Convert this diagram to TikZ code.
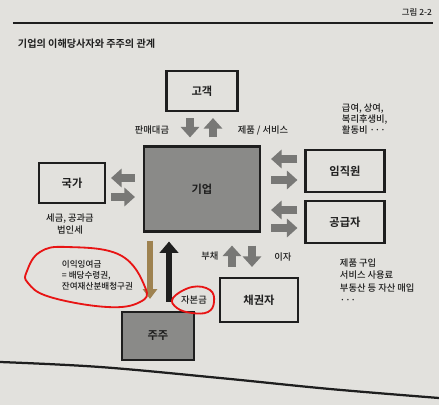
\documentclass[tikz,border=0pt]{standalone}
\usepackage{fontspec}
\setmainfont{Noto Sans CJK KR Medium}[BoldFont={Noto Sans CJK KR Bold}]
\usepackage{tikz}
\usetikzlibrary{arrows.meta,calc}

\definecolor{papier}{RGB}{226,225,221}
\definecolor{tinte}{RGB}{30,30,30}
\definecolor{pfeilgrau}{RGB}{120,120,118}
\definecolor{kastengrau}{RGB}{138,138,136}
\definecolor{gold}{RGB}{158,130,80}
\definecolor{rot}{RGB}{232,20,20}

\begin{document}
\begin{tikzpicture}[%
		x=0.25mm, y=-0.25mm,
		text=tinte,
		font=\fontsize{6.6}{8.5}\selectfont,
		kasten/.style={draw=tinte, line width=1.5pt, inner sep=0pt,
			font=\fontsize{8}{10}\selectfont\bfseries},
		block/.style={draw=pfeilgrau, line width=5pt,
			-{Triangle[width=13pt,length=7.5pt]}},
		>=Latex
		]

		%% Hintergrund (Papier) und Rahmen des Bildes
		\fill [papier] (0,0) rectangle (439,405);
		\useasboundingbox (0,0) rectangle (439,405);

		%% Kopfzeile
		\node (bildnr) at (417,12) {\fontsize{6}{7}\selectfont 그림 2-2};
		\draw [tinte, line width=2pt] (13,23) -- (433,23);
		\node [anchor=west, font=\fontsize{7.2}{8}\selectfont\bfseries] (titel) at (13,44)
			{기업의 이해당사자와 주주의 관계};

		%% Kaesten
		\node [kasten, minimum width=17.75mm, minimum height=10mm] (gogaek) at (202,91) {고객};
		\node [kasten, fill=kastengrau, minimum width=29mm, minimum height=21.25mm] (giup) at (202,189) {기업};
		\node [kasten, minimum width=16.5mm, minimum height=10mm] (gukga) at (72,183) {국가};
		\node [kasten, minimum width=19.75mm, minimum height=10.5mm] (imjik) at (345,171) {임직원};
		\node [kasten, minimum width=19.75mm, minimum height=10.5mm] (gonggeup) at (345,222) {공급자};
		\node [kasten, minimum width=19.5mm, minimum height=11mm] (chaegwon) at (259,300) {채권자};
		\node [kasten, fill=kastengrau, minimum width=18mm, minimum height=12mm] (juju) at (158,336) {주주};

		%% Pfeile Kunde <-> Unternehmen
		\draw [block] ($(gogaek.south)+(-12,6)$) -- ($(giup.north)+(-12,-8)$);
		\draw [block] ($(giup.north)+(11,-8)$) -- ($(gogaek.south)+(11,6)$);
		\node (panmae) at (152,130) {판매대금};
		\node (jepum) at (263,130) {제품 / 서비스};

		%% Pfeile Staat <-> Unternehmen
		\draw [block] ($(giup.west)+(-8,-11)$) -- ($(gukga.east)+(5,-5)$);
		\draw [block] ($(gukga.east)+(5,14)$) -- ($(giup.west)+(-8,8)$);
		\node [align=center] (segeum) at (70,224) {세금, 공과금\\법인세};

		%% Pfeile Mitarbeiter / Lieferanten <-> Unternehmen
		\draw [block] ($(imjik.west)+(-7,-12)$) -- ($(giup.east)+(10,-30)$);
		\draw [block] ($(giup.east)+(10,-9)$) -- ($(imjik.west)+(-7,9)$);
		\draw [block] ($(gonggeup.west)+(-7,-12)$) -- ($(giup.east)+(10,21)$);
		\draw [block] ($(giup.east)+(10,39)$) -- ($(gonggeup.west)+(-7,6)$);
		\node [anchor=west, align=left, font=\fontsize{6.6}{7.8}\selectfont] (geubyeo) at (337,119)
			{급여, 상여,\\복리후생비,\\활동비 ···};
		\node [anchor=west, align=left, font=\fontsize{6.6}{8.9}\selectfont] (jepumgu) at (335,281)
			{제품 구입\\서비스 사용료\\부동산 등 자산 매입\\···};

		%% Pfeile Glaeubiger <-> Unternehmen
		\draw [block] ($(chaegwon.north)+(-27,-10)$) -- ($(giup.south)+(30,13)$);
		\draw [block] ($(giup.south)+(50,13)$) -- ($(chaegwon.north)+(-7,-10)$);
		\node (buchae) at (210,256) {부채};
		\node (ija) at (283,257) {이자};

		%% Pfeile Aktionaer <-> Unternehmen
		\draw [gold, line width=4.2pt, -{Triangle[width=10pt,length=7pt]}]
			($(giup.south)+(-52,8)$) -- ($(juju.north)+(-8,-12)$);
		\draw [tinte, line width=4.2pt, -{Triangle[width=13pt,length=8pt]}]
			($(juju.north)+(11,-9)$) -- ($(giup.south)+(-33,9)$);
		\node [anchor=west, align=left, font=\fontsize{6.1}{7.8}\selectfont] (ingyeo) at (57,275)
			{이익잉여금\\= 배당수령권,\\잔여재산분배청구권};
		\node (jabon) at (194,300) {자본금};

		%% Rote Markierungen (von Hand)
		\draw [rot, line width=1.3pt] plot [smooth cycle, tension=0.7] coordinates
			{(40,252) (67,247) (120,255) (145,287) (140,302) (107,307) (50,297) (28,283) (27,271)};
		\draw [rot, line width=1.3pt] plot [smooth cycle, tension=0.7] coordinates
			{(173,298) (192,287) (210,290) (214,302) (208,312) (192,313) (177,308)};

		%% Seitenrand
		\draw [tinte, line width=1.6pt] plot [smooth, tension=0.6] coordinates
			{(0,362) (100,367) (220,378) (330,389) (439,398)};

	\end{tikzpicture}
\end{document}
